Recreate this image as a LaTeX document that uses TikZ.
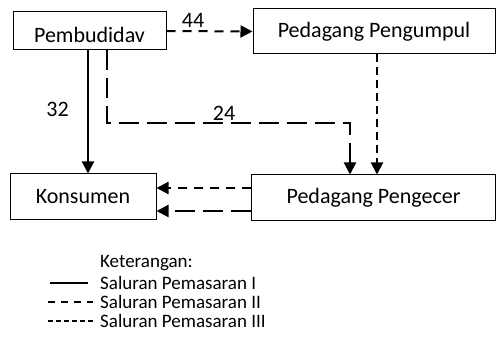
\documentclass[tikz,border=0pt]{standalone}
\usepackage{fontspec}
\setmainfont{Carlito}
\usetikzlibrary{arrows.meta}
\begin{document}
\begin{tikzpicture}[x=1pt,y=-1pt,
  box/.style={draw,line width=1pt,inner sep=0pt},
  txt/.style={font=\fontsize{22}{26}\selectfont,inner sep=0pt},
  lgtxt/.style={font=\fontsize{19}{22}\selectfont,inner sep=0pt,anchor=west},
  tip/.style={-{Triangle[length=12pt,width=12pt]}},
  chI/.style={line width=2pt},
  chII/.style={line width=2pt,dash pattern=on 9pt off 7pt},
  chIIb/.style={line width=2pt,dash pattern=on 8pt off 5pt},
  chL/.style={line width=2pt,dash pattern=on 20pt off 8pt},
  lgI/.style={line width=2pt},
  lgII/.style={line width=2pt,dash pattern=on 7pt off 6pt},
  lgIII/.style={line width=2pt,dash pattern=on 5pt off 3pt}]
\useasboundingbox (0,0) rectangle (496,339);
% boxes
\node[box,minimum width=153pt,minimum height=38pt] (pb) at (89.5,31) {};
\begin{scope}
\clip (13,12) rectangle (166,44.5);
\node[txt,anchor=base] (pbt) at (89.5,43) {Pembudidav};
\end{scope}
\node[box,txt,minimum width=242pt,minimum height=45pt] (pu) at (374,31.5) {Pedagang Pengumpul};
\node[box,txt,minimum width=146pt,minimum height=46pt] (ks) at (83,197) {Konsumen};
\node[box,txt,minimum width=244pt,minimum height=46pt] (pc) at (373.5,198) {Pedagang Pengecer};
% helper coordinates
\coordinate (xa) at (88,0);
\coordinate (xb) at (107,0);
\coordinate (xc) at (350,0);
\coordinate (xd) at (377,0);
\coordinate (ya) at (0,123);
\coordinate (yb) at (0,188);
\coordinate (yc) at (0,211);
% connectors
\draw[chII,tip] (pb.east) -- (pu.west);
\draw[chI,tip] (pb.south -| xa) -- (ks.north -| xa);
\draw[chL,tip] (pb.south -| xb) |- (xc |- ya) -- (xc |- pc.north);
\draw[chIIb,tip] (pu.south -| xd) -- (pc.north -| xd);
\draw[chII,tip] (pc.west |- yb) -- (ks.east |- yb);
\draw[chL,tip] (pc.west |- yc) -- (ks.east |- yc);
% labels
\node[txt] (l44) at (193,20) {44};
\node[txt] (l32) at (57.5,109.5) {32};
\node[txt] (l24) at (224,113) {24};
% legend
\node[lgtxt] (k0) at (100,263) {Keterangan:};
\node[lgtxt] (k1) at (100,283) {Saluran Pemasaran I};
\node[lgtxt] (k2) at (100,302) {Saluran Pemasaran II};
\node[lgtxt] (k3) at (100,321) {Saluran Pemasaran III};
\coordinate (s1) at (50,283);
\coordinate (s2) at (48,302);
\coordinate (s3) at (48,321);
\draw[lgI] (s1) -- ([xshift=-12pt]k1.west);
\draw[lgII] (s2) -- ([xshift=-7pt]k2.west);
\draw[lgIII] (s3) -- ([xshift=-7pt]k3.west);
\end{tikzpicture}
\end{document}
